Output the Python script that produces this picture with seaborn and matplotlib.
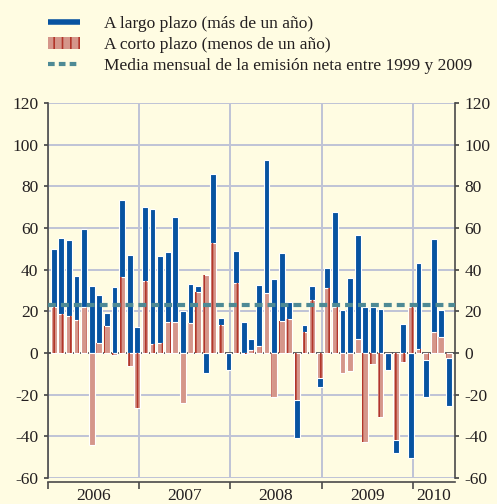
import matplotlib
matplotlib.use("Agg")
import matplotlib.pyplot as plt
from matplotlib.lines import Line2D
from matplotlib.patches import Patch
import seaborn as sns
import numpy as np
import pandas as pd

# emision neta mensual (ene-2006 .. may-2010)
largo = [28, 36.8, 36.4, 21.3, 37.2, 32, 23.2, 6.3, 31.8, 37.1, 47, 12.6,
         35.3, 64.8, 42, 33.6, 50.1, 20.3, 18.8, 2.9, -9.8, 33.4, 3, -8.2,
         15.7, 14.7, 5.3, 29.3, 63.8, 35.5, 32.2, 8.1, -18.2, 3.2, 6.6, -4.6,
         9.6, 45.6, 20.6, 35.8, 50, 22.2, 22.2, 21, -8.2, -6, 13.9, -50.6,
         41.2, -17.6, 44.4, 12.8, -22.8]
corto = [22, 18.6, 17.8, 15.7, 22.2, -44, 4.6, 13.1, -1, 36.3, -6, -26.5,
         34.6, 4.2, 4.6, 15, 15, -24.2, 14.4, 29.1, 37.6, 52.6, 13.6, 0,
         33.4, -0.5, 1.4, 3.2, 29, -21.2, 15.6, 16.2, -22.4, 10.2, 25.6, -11.9,
         31, 22.2, -9.8, -8.5, 6.5, -42.6, -5.3, -30.9, 0, -41.8, -4.2, 22.2,
         1.8, -3.4, 10.2, 7.8, -2.5]
media = 23
years = ['2006', '2007', '2008', '2009', '2010']
labels = ['A largo plazo (más de un año)',
          'A corto plazo (menos de un año)',
          'Media mensual de la emisión neta entre 1999 y 2009']

bg = '#fffce2'
blue = '#0753a1'
salmon = '#d5968a'
darkred = '#b2362a'
teal = '#4e8a95'
gridc = '#bfc3d6'
dark = '#4a4a4a'
txt = '#231f20'

df = pd.DataFrame({'mes': np.arange(len(largo)), 'largo': largo, 'corto': corto})
# largo plazo se apila encima del corto plazo del mismo signo
base = np.where(df['largo'] >= 0, df['corto'].clip(lower=0), df['corto'].clip(upper=0))
df['largo_top'] = base + df['largo']

sns.set_theme(style='white')
plt.rcParams['font.family'] = ['Liberation Serif', 'DejaVu Serif']
plt.rcParams['hatch.linewidth'] = 1.2
plt.rcParams['axes.unicode_minus'] = False

fig = plt.figure(figsize=(4.97, 5.04), dpi=100, facecolor=bg)
ax = fig.add_axes([0.0966, 0.0516, 0.8189, 0.744])
ax.set_facecolor(bg)
ax.set_axisbelow(True)

kw = dict(data=df, x='mes', native_scale=True, orient='x', width=0.75,
          errorbar=None, saturation=1, ax=ax)
sns.barplot(y='largo_top', color=blue, edgecolor='white', linewidth=0.8, **kw)
sns.barplot(y='corto', color=salmon, edgecolor='white', linewidth=0.8, **kw)
sns.barplot(y='corto', color=darkred, fill=False, linewidth=0, hatch='||', **kw)

ax.axhline(0, color=dark, lw=1.3, zorder=0.8)
ax.axhline(media, color=teal, lw=3, ls=(0, (1.9, 1.2)), zorder=3)

# ejes
bounds = [-0.75, 11.25, 23.25, 35.25, 47.25]
xmax = 52.8
mids = [(a + b) / 2 for a, b in zip(bounds, bounds[1:] + [xmax])]
ax.set_xlim(-0.75, xmax)
ax.set_ylim(-60, 120)
ax.set_yticks(np.arange(-60, 121, 20))
ax.set_xticks(bounds)
ax.set_xticklabels([])
ax.set_xticks(mids, minor=True)
ax.set_xticklabels(years, minor=True)
ax.set_xlabel('')
ax.set_ylabel('')

ax.grid(True, which='major', color=gridc, lw=1.4)
for s in ['left', 'right', 'bottom']:
    ax.spines[s].set_color(dark)
    ax.spines[s].set_linewidth(1.2)
ax.spines['top'].set_visible(False)
ax.spines['bottom'].set_position(('outward', 3))

ax.tick_params(axis='y', which='both', left=True, right=True, labelleft=True,
               labelright=True, length=3, color=dark, labelsize=12.5,
               labelcolor=txt, pad=4)
ax.tick_params(axis='x', which='major', bottom=True, length=5, color=dark,
               direction='out', width=1.2)
ax.tick_params(axis='x', which='minor', bottom=True, length=0, labelsize=12.5,
               labelcolor=txt, pad=4)

handles = [Line2D([], [], color=blue, lw=4, solid_capstyle='butt'),
           Patch(facecolor=salmon, edgecolor=darkred, lw=0, hatch='||'),
           Line2D([], [], color=teal, lw=3, ls=(0, (1.6, 1)), dash_capstyle='butt')]
fig.legend(handles, labels, loc='upper left', bbox_to_anchor=(0.097, 0.969),
           frameon=False, fontsize=12.5, handlelength=1.85, handletextpad=1.35,
           labelspacing=0.3, borderpad=0, borderaxespad=0, labelcolor=txt)

fig.savefig('out.png', dpi=100, facecolor=bg)
